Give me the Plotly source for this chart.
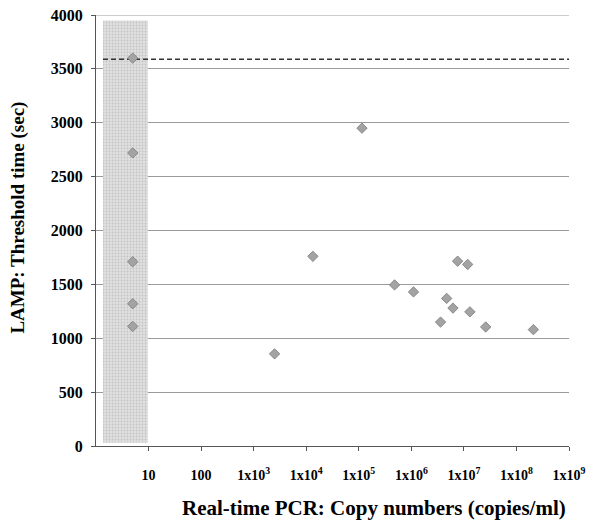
import plotly.graph_objects as go

# Data
below_x = [5, 5, 5, 5, 5]
below_y = [3600, 2720, 1710, 1320, 1110]

copies = [2.5e3, 1.34e4, 1.15e5, 4.8e5, 1.1e6, 3.6e6, 4.7e6, 6.2e6, 7.6e6,
          1.18e7, 1.3e7, 2.6e7, 2.1e8]
lamp_time = [855, 1760, 2950, 1495, 1430, 1150, 1370, 1280, 1715,
             1685, 1245, 1105, 1080]

cutoff_y = 3590
cutoff_x = [1.36, 1e9]

shade_x = [1.36, 9.7]
shade_y = [30, 3950]

y_max = 4000

tick_vals = [10, 100, 1e3, 1e4, 1e5, 1e6, 1e7, 1e8, 1e9]
tick_text = ["10", "100", "1x10<sup>3</sup>", "1x10<sup>4</sup>", "1x10<sup>5</sup>",
             "1x10<sup>6</sup>", "1x10<sup>7</sup>", "1x10<sup>8</sup>", "1x10<sup>9</sup>"]

x_title = "Real-time PCR: Copy numbers (copies/ml)"
y_title = "LAMP: Threshold time (sec)"

font = "Liberation Serif"
grid_color = "#9a9a9a"

fig = go.Figure()

fig.add_trace(go.Scatter(
    x=[shade_x[0], shade_x[1], shade_x[1], shade_x[0], shade_x[0]],
    y=[shade_y[0], shade_y[0], shade_y[1], shade_y[1], shade_y[0]],
    fill="toself", mode="none",
    fillcolor="#d6d6d6",
    fillpattern=dict(shape=".", size=3, solidity=0.3, fgcolor="#a5a5a5", bgcolor="#e0e0e0"),
    hoverinfo="skip", showlegend=False))

fig.add_trace(go.Scatter(
    x=cutoff_x, y=[cutoff_y, cutoff_y], mode="lines",
    line=dict(color="#333333", width=1.6, dash="5px,3px"),
    showlegend=False))

marker = dict(symbol="diamond", size=8, color="#a3a3a3", line=dict(color="#7a7a7a", width=0.8))
fig.add_trace(go.Scatter(x=below_x, y=below_y, mode="markers", marker=marker, showlegend=False))
fig.add_trace(go.Scatter(x=copies, y=lamp_time, mode="markers", marker=marker, showlegend=False))

fig.update_layout(
    width=591, height=522,
    margin=dict(l=96, r=22, t=15, b=76, autoexpand=False),
    paper_bgcolor="white", plot_bgcolor="white",
    font=dict(family=font, color="black"),
    shapes=[dict(type="line", xref="paper", x0=0, x1=1, yref="y", y0=y_max, y1=y_max,
                 line=dict(color=grid_color, width=1), layer="above")],
    annotations=[
        dict(text=x_title, xref="paper", yref="paper", x=0.587, y=-0.144,
             xanchor="center", yanchor="middle", showarrow=False,
             font=dict(family=font, size=21, weight="bold", color="black")),
        dict(text=y_title, xref="paper", yref="paper", x=-0.164, y=0.531,
             xanchor="center", yanchor="middle", showarrow=False, textangle=-90,
             font=dict(family=font, size=19, weight="bold", color="black")),
    ],
)

fig.update_xaxes(
    type="log", range=[0, 9], automargin=False,
    tickvals=tick_vals, ticktext=tick_text,
    tickfont=dict(family=font, size=14, weight="bold"),
    ticklabeloverflow="allow", ticklabelstandoff=12,
    showgrid=False, showline=True, linecolor="#555555", linewidth=1,
    ticks="outside", ticklen=4, tickcolor="#555555",
    zeroline=False,
)

fig.update_yaxes(
    range=[0, y_max], dtick=500, automargin=False,
    tickfont=dict(family=font, size=16, weight="bold"),
    ticklabeloverflow="allow", ticklabelstandoff=5,
    showgrid=True, gridcolor=grid_color, gridwidth=1,
    showline=True, linecolor="#555555", linewidth=1,
    ticks="outside", ticklen=4, tickcolor="#555555",
    zeroline=False,
)

fig.write_html("out.html",
               config={"displayModeBar": False},
               post_script="document.body.style.margin='0';document.body.style.overflow='hidden';")
